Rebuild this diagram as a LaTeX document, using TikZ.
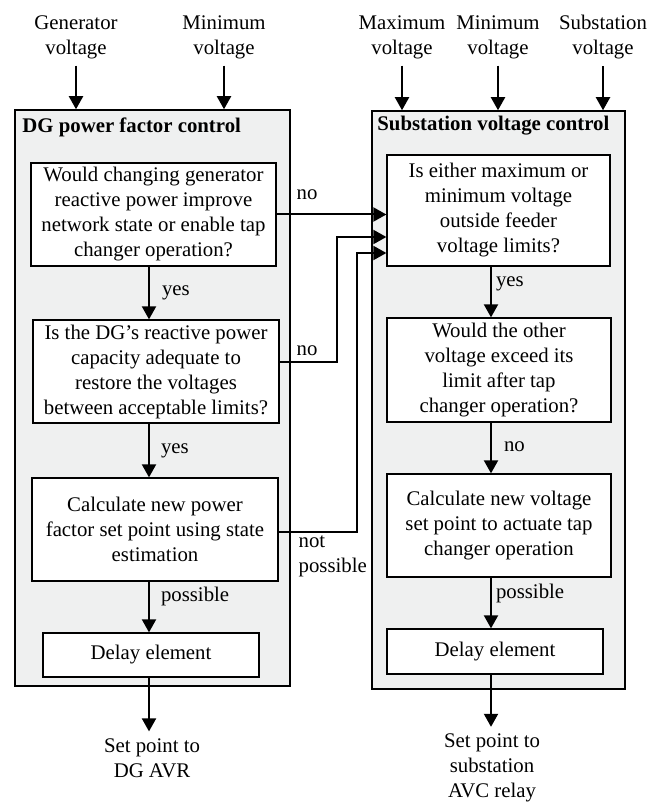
\documentclass[tikz,border=0pt]{standalone}
\usepackage{fontspec}
\setmainfont{Liberation Serif}
\usetikzlibrary{positioning, arrows.meta}

\definecolor{panelgray}{RGB}{239,240,240}

\begin{document}
\begin{tikzpicture}[
    x=0.5pt, y=-0.5pt,
    every node/.style={font=\fontsize{10.4}{12.5}\selectfont},
    panel/.style={draw, line width=0.75pt, fill=panelgray},
    box/.style={draw, fill=white, line width=0.65pt, align=center, inner sep=2pt},
    title/.style={font=\bfseries\fontsize{10.4}{12.5}\selectfont, anchor=west, inner sep=0pt},
    input/.style={align=center},
    tag/.style={inner sep=0pt},
    flow/.style={line width=1pt, -{Triangle[length=6.5pt,width=7pt]}}
]
    \useasboundingbox (0,0) rectangle (668,802);

    \node[panel, minimum width=137.5pt, minimum height=288pt] (dg) at (152.5,398) {};
    \node[panel, minimum width=126.5pt, minimum height=289pt] (sv) at (498.5,400) {};
    \node[title] (dgt) at (22,127) {DG power factor control};
    \node[title] (svt) at (377,126) {Substation voltage control};

    \node[input] (genv) at (76,37) {Generator\\voltage};
    \node[input] (minl) at (224,37) {Minimum\\voltage};
    \node[input] (maxv) at (402,37) {Maximum\\voltage};
    \node[input] (minr) at (498,37) {Minimum\\voltage};
    \node[input] (subv) at (603,37) {Substation\\voltage};

    \node[box, minimum width=122.5pt, minimum height=51.5pt] (q1) at (153.5,214.5)
        {Would changing generator\\reactive power improve\\network state or enable tap\\changer operation?};
    \node[box, minimum width=123pt, minimum height=51.5pt] (q2) at (156,371.5)
        {Is the DG's reactive power\\capacity adequate to\\restore the voltages\\between acceptable limits?};
    \node[box, minimum width=123pt, minimum height=51.5pt] (c1) at (155,529.5)
        {Calculate new power\\factor set point using state\\estimation};
    \node[box, minimum width=108pt, minimum height=22pt] (d1) at (151,655) {Delay element};

    \node[box, minimum width=111.5pt, minimum height=55.5pt] (r1) at (498.5,210.5)
        {Is either maximum or\\minimum voltage\\outside feeder\\voltage limits?};
    \node[box, minimum width=112pt, minimum height=52pt] (r2) at (499,370)
        {Would the other\\voltage exceed its\\limit after tap\\changer operation?};
    \node[box, minimum width=112pt, minimum height=51.5pt] (r3) at (499,525.5)
        {Calculate new voltage\\set point to actuate tap\\changer operation};
    \node[box, minimum width=108pt, minimum height=22.5pt] (d2) at (495,651.5) {Delay element};

    \node[input] (avr) at (152,758) {Set point to\\DG AVR};
    \node[input] (avc) at (492,768) {Set point to\\substation\\AVC relay};

    \coordinate (lc) at (149,0);
    \coordinate (rc) at (491,0);
    \coordinate (s2) at ([yshift=4.75pt]q2.east);
    \coordinate (s3) at ([yshift=-1.25pt]c1.east);
    \coordinate (j2) at (337,237);
    \coordinate (j3) at (357,253);

    \draw[flow] (genv.south) -- (genv.south |- dg.north);
    \draw[flow] (minl.south) -- (minl.south |- dg.north);
    \draw[flow] (maxv.south) -- (maxv.south |- sv.north);
    \draw[flow] (minr.south) -- (minr.south |- sv.north);
    \draw[flow] (subv.south) -- (subv.south |- sv.north);

    \draw[flow] (q1.south -| lc) -- node[tag, right=6pt] {yes} (q2.north -| lc);
    \draw[flow] (q2.south -| lc) -- node[tag, right=5.5pt] {yes} (c1.north -| lc);
    \draw[flow] (c1.south -| lc) -- node[tag, pos=0.3, right=5.5pt] {possible} (d1.north -| lc);
    \draw[flow] (d1.south -| lc) -- (avr.north -| lc);

    \draw[flow] (r1.south -| rc) -- node[tag, pos=0.33, right=2pt] {yes} (r2.north -| rc);
    \draw[flow] (r2.south -| rc) -- node[tag, pos=0.48, right=6pt] {no} (r3.north -| rc);
    \draw[flow] (r3.south -| rc) -- node[tag, pos=0.31, right=2pt] {possible} (d2.north -| rc);
    \draw[flow] (d2.south -| rc) -- (avc.north -| rc);

    \draw[flow] (q1.east) -- node[tag, at start, anchor=base west, xshift=9.5pt, yshift=7.5pt] {no} (q1.east -| r1.west);
    \draw[flow] (s2) -| node[tag, at start, anchor=base west, xshift=8pt, yshift=3.5pt] {no} (j2) -- (j2 -| r1.west);
    \draw[flow] (s3) -| node[tag, at start, anchor=north west, xshift=9.5pt, yshift=-1.5pt, align=left] {not\\possible} (j3) -- (j3 -| r1.west);
\end{tikzpicture}
\end{document}
